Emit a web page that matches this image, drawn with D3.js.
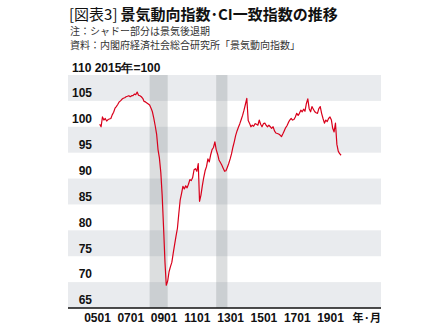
<!DOCTYPE html>
<html lang="ja">
<head>
<meta charset="utf-8">
<script src="https://cdn.jsdelivr.net/npm/d3@7"></script>
<style>
  html, body { margin: 0; padding: 0; background: #fff; }
  svg { display: block; }
</style>
</head>
<body>
<svg id="chart" width="440" height="334"></svg>
<script>
// 景気動向指数 CI一致指数（2015年=100）月次、2005年3月から
const seriesStart = [2005, 2]; // [year, monthIndex]
const ciValues = [
  100.5,100.0,101.9,101.3,101.6,101.1,101.4,101.5,101.6,102.3,
  102.8,103.6,103.9,104.3,104.8,105.0,105.3,105.5,105.6,105.8,105.9,106.0,
  105.8,106.0,106.0,106.3,106.2,106.7,106.1,106.0,105.8,105.5,104.9,104.8,
  104.6,104.4,104.2,103.6,102.9,101.6,100.2,98.6,95.6,94.0,91.2,86.8,
  80.5,73.8,69.4,70.2,72.0,73.0,73.8,75.6,77.3,78.9,80.4,83.2,
  85.9,87.2,88.5,88.0,88.6,88.2,88.9,89.8,89.6,90.2,91.7,91.9,
  91.4,92.9,85.6,86.8,88.6,90.2,91.5,92.3,93.8,93.2,94.6,95.6,
  96.0,97.1,95.6,94.7,93.6,93.1,92.6,92.0,91.4,91.5,92.2,92.9,
  93.8,94.8,96.0,97.1,98.3,99.2,99.9,100.6,101.4,102.2,103.2,104.3,
  105.5,101.2,100.7,100.0,100.3,100.1,100.6,100.5,100.3,101.3,100.5,100.0,
  100.6,100.7,100.3,100.0,100.3,100.0,99.7,100.0,99.2,98.8,98.7,98.6,
  98.4,98.1,98.6,99.2,99.8,100.2,100.8,101.3,101.6,101.3,101.4,101.9,
  102.6,102.2,102.6,103.2,102.9,103.4,103.0,104.5,105.4,103.5,102.9,103.9,
  103.4,102.9,102.7,102.6,103.5,103.9,102.6,101.6,100.7,101.3,101.0,101.6,
  101.9,101.3,99.7,99.0,100.7,96.6,95.3,94.8,94.5
];
// 景気後退期（シャドー）
const recessions = [["2008-03", "2009-04"], ["2012-03", "2012-11"]];
// 軸目盛
const xTickLabels = ["0501", "0701", "0901", "1101", "1301", "1501", "1701", "1901"];
const yTickValues = [65, 70, 75, 80, 85, 90, 95, 100, 105, 110];

const svg = d3.select("#chart");
const plot = { left: 68, right: 381, top: 75, bottom: 308 };
const latin = "'Liberation Sans', Arial, sans-serif";
const cjk = "'Noto Sans CJK JP', sans-serif";

const parseYM = d3.timeParse("%y%m");
const parseISO = d3.timeParse("%Y-%m");
const x = d3.scaleTime()
  .domain([parseYM("0501"), parseYM("1901")])
  .range([97, 330]);
const y = d3.scaleLinear().domain([65, 110]).range([plot.bottom, plot.top]);

// 見出し
const title = svg.append("text")
  .attr("x", 69).attr("y", 20)
  .attr("font-family", cjk).attr("font-size", 15).attr("fill", "#111");
title.append("tspan").attr("font-weight", 400).text("[図表3]");
title.append("tspan").attr("dx", 3).attr("font-weight", 700).text("景気動向指数･CI一致指数の推移");

svg.append("text").attr("x", 70).attr("y", 35)
  .attr("font-family", cjk).attr("font-size", 10).attr("fill", "#333")
  .text("注：シャドー部分は景気後退期");
svg.append("text").attr("x", 70).attr("y", 49)
  .attr("font-family", cjk).attr("font-size", 10).attr("fill", "#333")
  .text("資料：内閣府経済社会総合研究所「景気動向指数」");

// 横縞の背景
const bands = d3.pairs(yTickValues).filter((_, i) => i % 2 === 0);
svg.append("g").selectAll("rect").data(bands).join("rect")
  .attr("x", plot.left).attr("width", plot.right - plot.left)
  .attr("y", d => y(d[1])).attr("height", d => y(d[0]) - y(d[1]))
  .attr("fill", "#e9ebee");

// 景気後退期のシャドー
svg.append("g").selectAll("rect").data(recessions).join("rect")
  .attr("x", d => x(parseISO(d[0])))
  .attr("width", d => x(parseISO(d[1])) - x(parseISO(d[0])))
  .attr("y", plot.top).attr("height", plot.bottom - plot.top)
  .attr("fill", "rgb(110,115,122)").attr("fill-opacity", 0.24);

// 系列データ
const data = ciValues.map((v, i) => ({
  date: new Date(seriesStart[0], seriesStart[1] + i, 1),
  value: v
}));
const line = d3.line().x(d => x(d.date)).y(d => y(d.value));
svg.append("path").datum(data)
  .attr("d", line)
  .attr("fill", "none").attr("stroke", "#d9001b")
  .attr("stroke-width", 1.2).attr("stroke-linejoin", "round");

// Y軸ラベル（目盛線の上に配置）
const yAxis = d3.axisLeft(y).tickValues(yTickValues.filter(v => v < 110)).tickSize(0);
const gy = svg.append("g").attr("transform", `translate(${plot.left + 24},-8)`).call(yAxis);
gy.select(".domain").remove();
gy.selectAll("text")
  .attr("x", 0).attr("dy", "0.32em")
  .attr("font-family", latin).attr("font-size", 12).attr("font-weight", 700).attr("fill", "#111");

svg.append("text").attr("x", 72).attr("y", plot.top - 3)
  .attr("font-family", latin).attr("font-size", 12).attr("font-weight", 700).attr("fill", "#111")
  .text("110 2015年=100");

// X軸
const xAxis = d3.axisBottom(x)
  .tickValues(xTickLabels.map(parseYM))
  .tickFormat(d3.timeFormat("%y%m"))
  .tickSize(0).tickPadding(5);
const gx = svg.append("g").attr("transform", `translate(0,${plot.bottom})`).call(xAxis);
gx.select(".domain").remove();
gx.selectAll("text")
  .attr("font-family", latin).attr("font-size", 12).attr("font-weight", 700).attr("fill", "#111");

svg.append("line")
  .attr("x1", plot.left).attr("x2", plot.right)
  .attr("y1", plot.bottom).attr("y2", plot.bottom)
  .attr("stroke", "#111").attr("stroke-width", 1.5);

svg.append("text").attr("x", plot.right).attr("y", 322)
  .attr("text-anchor", "end")
  .attr("font-family", cjk).attr("font-size", 11).attr("font-weight", 700).attr("fill", "#111")
  .text("年·月");
</script>
</body>
</html>
